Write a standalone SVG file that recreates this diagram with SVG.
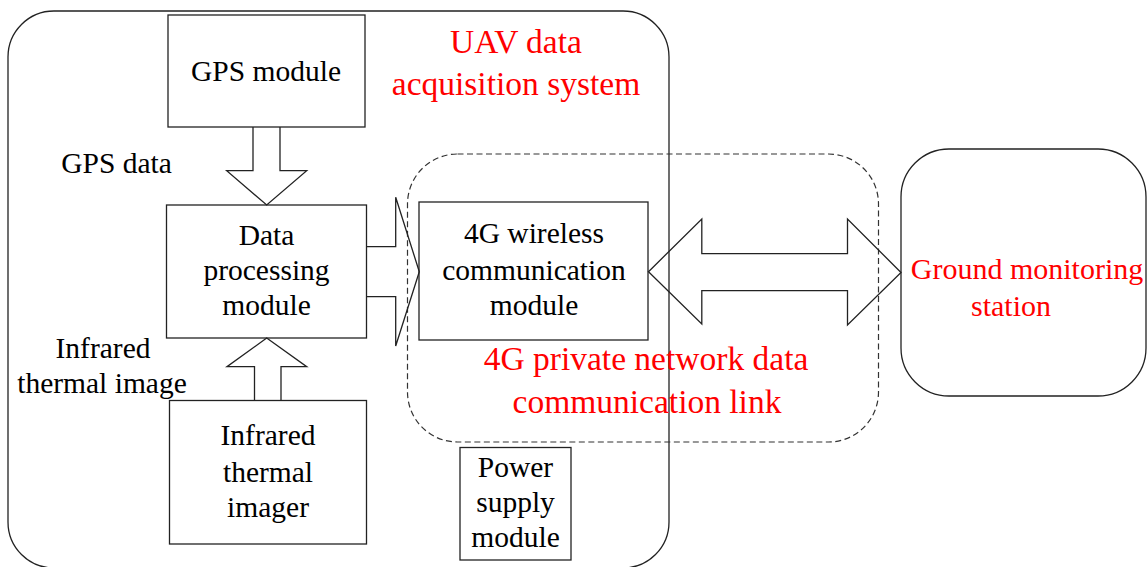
<svg xmlns="http://www.w3.org/2000/svg" width="1147" height="567" viewBox="0 0 1147 567">
<style>
.box{fill:none;stroke:#222;stroke-width:1.3}
.arr{fill:none;stroke:#222;stroke-width:1.3;stroke-linejoin:miter}
.t{font-family:"Liberation Serif","Times New Roman",serif;font-size:29.5px;fill:#000;text-anchor:middle}
.r{font-family:"Liberation Serif","Times New Roman",serif;font-size:33.5px;fill:#ff0000;text-anchor:middle}
.dash{fill:none;stroke:#333;stroke-width:1.2;stroke-dasharray:6 3.5}
</style>
<rect width="1147" height="567" fill="#fff"/>
<g id="uav-system">
<rect class="box" x="8" y="11" width="661" height="557" rx="46" ry="46"/>
<text class="r" x="516" y="53">UAV data</text>
<text class="r" x="516" y="95">acquisition system</text>
</g>
<g id="link-4g">
<rect class="dash" x="407.5" y="154" width="471" height="288" rx="50" ry="50"/>
<text class="r" x="646" y="370">4G private network data</text>
<text class="r" x="647" y="413">communication link</text>
</g>
<g id="gps">
<rect class="box" x="168" y="15" width="197" height="112"/>
<text class="t" x="266" y="81">GPS module</text>
</g>
<g id="data-proc">
<rect class="box" x="166.5" y="205" width="200" height="133"/>
<text class="t" x="266.5" y="245">Data</text>
<text class="t" x="266.5" y="280">processing</text>
<text class="t" x="266.5" y="315">module</text>
</g>
<g id="infrared">
<rect class="box" x="169.5" y="400.5" width="197" height="143.5"/>
<text class="t" x="268" y="445">Infrared</text>
<text class="t" x="268" y="482">thermal</text>
<text class="t" x="268" y="517">imager</text>
</g>
<g id="wireless-4g">
<rect class="box" x="419" y="202" width="229" height="138"/>
<text class="t" x="534" y="243">4G wireless</text>
<text class="t" x="534" y="280">communication</text>
<text class="t" x="534" y="315">module</text>
</g>
<g id="power">
<rect class="box" x="460" y="447.5" width="111" height="112.5"/>
<text class="t" x="515.5" y="477">Power</text>
<text class="t" x="515.5" y="512">supply</text>
<text class="t" x="515.5" y="547">module</text>
</g>
<g id="ground">
<rect class="box" x="901" y="149" width="245" height="247" rx="48" ry="48"/>
<text class="r" x="1027" y="279" style="font-size:30px">Ground monitoring</text>
<text class="r" x="1011" y="316" style="font-size:30px">station</text>
</g>
<g id="connectors">
<path class="arr" d="M253,127 V170.7 H226.7 L266.7,205 L306.7,170.7 H280 V127"/>
<path class="arr" d="M254.5,400.5 V366.7 H227 L266.7,338 L306.7,366.7 H281 V400.5"/>
<path class="arr" d="M366.5,246.7 H395.7 V197.3 L419.3,271.7 L395.7,346 V296.7 H366.5"/>
<path class="arr" d="M648.5,271.7 L701.8,219 V253.7 H847.5 V219 L901,272.5 L847.5,325 V290.7 H701.8 V324 Z"/>
<text class="t" x="116.5" y="173">GPS data</text>
<text class="t" x="103" y="358">Infrared</text>
<text class="t" x="102" y="393">thermal image</text>
</g>
</svg>
